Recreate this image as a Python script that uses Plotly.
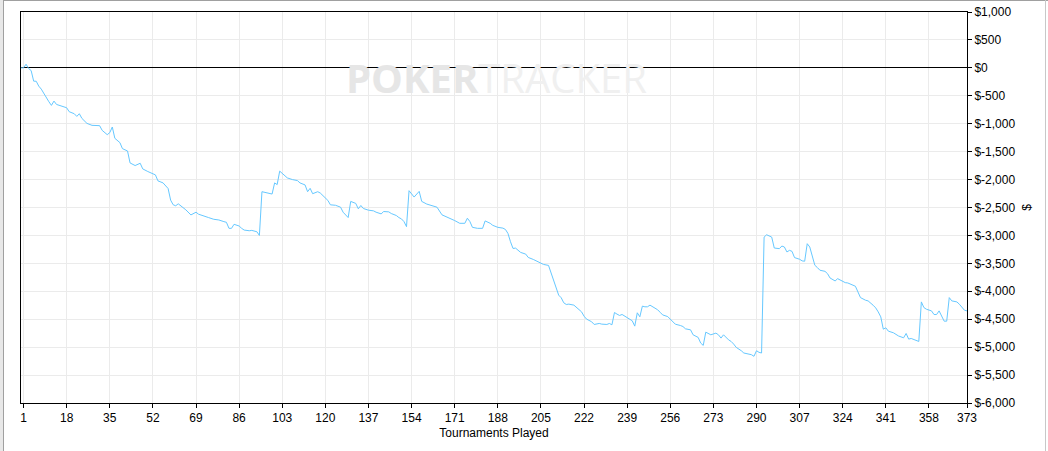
import plotly.graph_objects as go

# Cumulative winnings ($), at the tournaments where the line changes direction
tournaments = [0, 1, 2, 3, 4, 5, 6, 7, 8, 9, 10, 11, 12, 13, 14, 16, 18, 19, 21, 22, 23, 24, 26, 28, 30, 31,
               32, 34, 35, 36, 37, 39, 40, 42, 43, 45, 47, 48, 50, 52, 53, 54, 56, 58, 59, 60, 61, 62, 63, 65,
               67, 69, 70, 72, 74, 76, 78, 80, 81, 82, 83, 84, 86, 87, 88, 90, 91, 93, 94, 95, 97, 99, 100, 101,
               102, 103, 105, 107, 109, 110, 112, 113, 114, 115, 117, 118, 120, 121, 122, 124, 126, 127, 129, 130,
               132, 133, 134, 135, 137, 139, 140, 142, 143, 145, 146, 148, 149, 150, 151, 152, 153, 155, 157, 158,
               160, 162, 164, 166, 168, 170, 171, 173, 175, 176, 177, 178, 180, 182, 183, 185, 186, 188, 190, 191,
               192, 193, 194, 195, 196, 197, 199, 200, 202, 204, 206, 208, 209, 210, 211, 212, 213, 214, 215, 216,
               218, 219, 221, 222, 223, 225, 226, 228, 229, 231, 232, 233, 234, 235, 236, 237, 239, 240, 241, 242,
               243, 244, 245, 246, 247, 248, 250, 251, 252, 253, 255, 256, 257, 258, 260, 261, 262, 263, 264, 265,
               266, 267, 268, 269, 270, 271, 272, 274, 275, 276, 277, 279, 280, 281, 282, 284, 285, 288, 289, 290,
               291, 292, 293, 294, 295, 296, 297, 298, 299, 300, 301, 302, 303, 304, 305, 307, 308, 309, 310, 311,
               312, 313, 314, 315, 317, 318, 319, 321, 322, 323, 325, 326, 328, 329, 330, 331, 333, 334, 336, 337,
               338, 339, 340, 341, 342, 344, 346, 347, 348, 349, 350, 351, 352, 354, 355, 356, 357, 359, 360, 361,
               362, 363, 364, 365, 366, 367, 369, 370, 371, 372, 373]
winnings = [0, 0, 65, -12, -48, -238, -240, -327, -381, -464, -547, -607, -672, -595, -655, -684, -714, -785, -821, -869, -821, -904, -994, -1029, -1041, -1035,
            -1119, -1196, -1160, -1059, -1261, -1339, -1446, -1488, -1702, -1749, -1708, -1809, -1856, -1904, -1916, -2023, -2059, -2160, -2368, -2451, -2469, -2434, -2470, -2542,
            -2633, -2584, -2620, -2645, -2681, -2711, -2723, -2753, -2765, -2873, -2873, -2801, -2831, -2873, -2904, -2916, -2910, -2934, -3000, -2217, -2241, -2259, -2060, -2090,
            -1849, -1892, -1970, -2000, -2018, -2060, -2096, -2217, -2157, -2253, -2217, -2241, -2331, -2373, -2452, -2460, -2494, -2584, -2680, -2391,
            -2427, -2524, -2464, -2518, -2548, -2560, -2584, -2614, -2572, -2578, -2608, -2644, -2680, -2704, -2752, -2843, -2199, -2313, -2211, -2391,
            -2439, -2470, -2494, -2632, -2668, -2704, -2734, -2783, -2783, -2692, -2752, -2855, -2873, -2873, -2740, -2783, -2819, -2855, -2869, -2893,
            -2964, -3113, -3233, -3227, -3275, -3304, -3334, -3394, -3430, -3472, -3519, -3537, -3680, -3788, -3949, -4069, -4116, -4206, -4236, -4230,
            -4248, -4290, -4367, -4445, -4498, -4546, -4594, -4576, -4588, -4594, -4576, -4600, -4380, -4409, -4433, -4415, -4469, -4498, -4528, -4624,
            -4385, -4457, -4266, -4278, -4278, -4248, -4300, -4330, -4376, -4423, -4453, -4500, -4560, -4589, -4613, -4631, -4672, -4678, -4690, -4779,
            -4797, -4826, -4927, -4969, -4732, -4755, -4779, -4749, -4779, -4838, -4779, -4870, -4898, -4945, -5004, -5064, -5105, -5135, -5164, -5064,
            -5093, -5105, -3030, -2988, -3012, -3030, -3225, -3225, -3237, -3190, -3207, -3296, -3267, -3285, -3397, -3427, -3456, -3462, -3148, -3207,
            -3385, -3534, -3575, -3623, -3643, -3684, -3762, -3815, -3774, -3803, -3845, -3851, -3881, -3910, -4012, -4113, -4160, -4172, -4250, -4297,
            -4369, -4458, -4678, -4654, -4714, -4743, -4800, -4815, -4833, -4755, -4856, -4845, -4862, -4898, -4190, -4291, -4321, -4351, -4416, -4416,
            -4351, -4458, -4535, -4535, -4113, -4172, -4190, -4232, -4280, -4339, -4351]

x_tickvals = [1, 18, 35, 52, 69, 86, 103, 120, 137, 154, 171, 188, 205, 222, 239, 256, 273, 290, 307, 324, 341, 358, 373]
y_tickvals = [1000, 500, 0, -500, -1000, -1500, -2000, -2500, -3000, -3500, -4000, -4500, -5000, -5500, -6000]
y_ticktext = ["$1,000", "$500", "$0", "$-500", "$-1,000", "$-1,500", "$-2,000", "$-2,500", "$-3,000",
              "$-3,500", "$-4,000", "$-4,500", "$-5,000", "$-5,500", "$-6,000"]

W, H = 1048, 451
L, R, T, B = 21, 81, 12, 48
PW, PH = W - L - R, H - T - B


def px(x):
    return (x - L) / PW


def py(y):
    return (H - B - y) / PH


fig = go.Figure()
fig.add_trace(go.Scatter(x=tournaments, y=winnings, mode="lines",
                         line=dict(color="#66c8ff", width=1), hoverinfo="skip", showlegend=False))

font = dict(family="Liberation Sans, Arial, sans-serif", size=12, color="#000000")

fig.update_layout(
    width=W, height=H,
    margin=dict(l=L, r=R, t=T, b=B, autoexpand=False),
    paper_bgcolor="#ffffff", plot_bgcolor="#ffffff",
    font=font,
    xaxis=dict(range=[0, 373], tickvals=x_tickvals, ticks="outside", ticklen=4, tickcolor="#000000",
               showgrid=True, gridcolor="#ebebeb", gridwidth=1, zeroline=False,
               showline=True, linecolor="#000000", linewidth=1, mirror=True,
               ticklabeloverflow="allow",
               title=dict(text="Tournaments Played", font=font, standoff=4), tickfont=font),
    yaxis=dict(range=[-6000, 1000], side="right", tickvals=y_tickvals, ticktext=y_ticktext,
               ticks="outside", ticklen=4, tickcolor="#000000",
               showgrid=True, gridcolor="#ebebeb", gridwidth=1,
               zeroline=True, zerolinecolor="#000000", zerolinewidth=1,
               showline=True, linecolor="#000000", linewidth=1, mirror=True,
               ticklabeloverflow="allow",
               title=dict(text="$", font=font, standoff=8), tickfont=font),
)

# watermark
fig.add_annotation(xref="paper", yref="paper", x=px(496), y=py(48), showarrow=False,
                   text="<b>POKER</b><span style='color:#f0f0f0'>TRACKER</span>",
                   font=dict(family="Open Sans, sans-serif", size=40, color="#e6e6e6"))

# window frame
fig.add_shape(type="rect", xref="paper", yref="paper", x0=px(0), x1=px(3), y0=py(451), y1=py(0),
              fillcolor="#e8e8e8", line=dict(width=0), layer="below")
fig.add_shape(type="line", xref="paper", yref="paper", x0=px(3.5), x1=px(3.5), y0=py(451), y1=py(0),
              line=dict(color="#a0a0a0", width=1))
fig.add_shape(type="line", xref="paper", yref="paper", x0=px(3.5), x1=px(1048), y0=py(0.5), y1=py(0.5),
              line=dict(color="#a0a0a0", width=1))
fig.add_shape(type="line", xref="paper", yref="paper", x0=px(1045.5), x1=px(1045.5), y0=py(451), y1=py(0),
              line=dict(color="#c8c8c8", width=1))

# remove the browser's default page margin so the figure sits at the window's top-left corner
fig.write_html("out.html", config={"displayModeBar": False},
               post_script="document.body.style.margin='0';document.body.style.overflow='hidden';")
